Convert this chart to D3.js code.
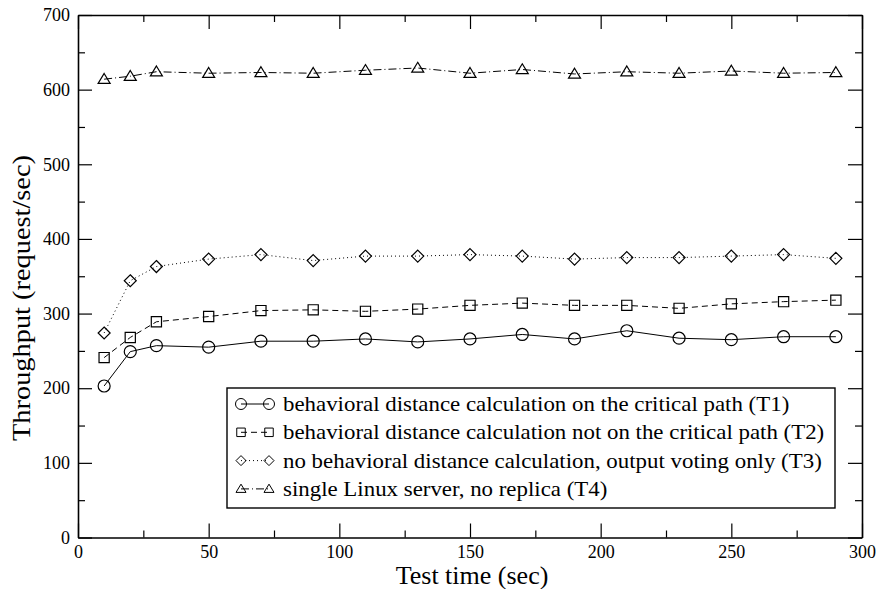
<!DOCTYPE html>
<html>
<head>
<meta charset="utf-8">
<script src="https://cdn.jsdelivr.net/npm/d3@7"></script>
<style>
  body { margin: 0; background: #fff; }
  svg { display: block; font-family: "Liberation Serif", "Times New Roman", serif; }
  .axis path, .axis line { stroke: #000; }
  .axis text { font-size: 18px; fill: #000; font-family: "Liberation Serif", "Times New Roman", serif; }
</style>
</head>
<body>
<svg id="chart" width="879" height="589"></svg>
<script>
// test time (sec)
var times = [10, 20, 30, 50, 70, 90, 110, 130, 150, 170, 190, 210, 230, 250, 270, 290];
// throughput (request/sec)
var t1 = [203, 249, 257, 255, 263, 263, 266, 262, 266, 272, 266, 277, 267, 265, 269, 269];
var t2 = [241, 268, 289, 296, 304, 305, 303, 306, 311, 314, 311, 311, 307, 313, 316, 318];
var t3 = [274, 344, 363, 373, 379, 371, 377, 377, 379, 377, 373, 375, 375, 377, 379, 374];
var t4 = [614, 618, 624, 622, 623, 622, 626, 629, 622, 627, 621, 624, 622, 625, 622, 623];
var seriesNames = [
    'behavioral distance calculation on the critical path (T1)',
    'behavioral distance calculation not on the critical path (T2)',
    'no behavioral distance calculation, output voting only (T3)',
    'single Linux server, no replica (T4)'
];
var xTicks = [0, 50, 100, 150, 200, 250, 300];
var yTicks = [0, 100, 200, 300, 400, 500, 600, 700];

var series = [
    { name: seriesNames[0], values: t1, marker: 'circle', dash: null },
    { name: seriesNames[1], values: t2, marker: 'square', dash: '6,4' },
    { name: seriesNames[2], values: t3, marker: 'diamond', dash: '1,3' },
    { name: seriesNames[3], values: t4, marker: 'triangle', dash: '8,3,1,3' }
];

var svg = d3.select('#chart');
// plot frame (window.top is reserved, so keep these in an object)
var frame = { left: 78, right: 862, top: 15, bottom: 537.5 };

var x = d3.scaleLinear().domain([0, 300]).range([frame.left, frame.right]);
var y = d3.scaleLinear().domain([0, 700]).range([frame.bottom, frame.top]);

// marker path centred on 0,0; size s is the half width
function markerPath(type, s) {
    if (type === 'circle') {
        return d3.arc()({ innerRadius: 0, outerRadius: s, startAngle: 0, endAngle: 2 * Math.PI });
    }
    if (type === 'square') {
        var h = s * 0.85;
        return 'M' + (-h) + ',' + (-h) + 'H' + h + 'V' + h + 'H' + (-h) + 'Z';
    }
    if (type === 'diamond') {
        return 'M0,' + (-s) + 'L' + s + ',0L0,' + s + 'L' + (-s) + ',0Z';
    }
    // triangle
    return 'M0,' + (-s * 0.95) + 'L' + s + ',' + (s * 0.7) + 'L' + (-s) + ',' + (s * 0.7) + 'Z';
}

// axes: major ticks inward, minor ticks inward, all four sides
function drawAxis(axisFn, scale, transform, majors, minors, major, minor, labels, pad) {
    var gMinor = svg.append('g').attr('class', 'axis').attr('transform', transform)
        .call(axisFn(scale).tickValues(minors).tickSize(-minor).tickSizeOuter(0).tickFormat(''));
    gMinor.select('.domain').remove();
    var g = svg.append('g').attr('class', 'axis').attr('transform', transform)
        .call(axisFn(scale).tickValues(majors).tickSize(-major).tickSizeOuter(0)
            .tickPadding(pad)
            .tickFormat(labels ? d3.format('d') : ''));
    g.select('.domain').attr('stroke-width', 1.6);
    g.selectAll('.tick line').attr('stroke-width', 1.2);
    gMinor.selectAll('.tick line').attr('stroke-width', 1.2);
    return g;
}

var xMinor = d3.range(25, 300, 50);
var yMinor = d3.range(50, 700, 100);

drawAxis(d3.axisBottom, x, 'translate(0,' + frame.bottom + ')', xTicks, xMinor, 14, 7, true, 8);
drawAxis(d3.axisTop, x, 'translate(0,' + frame.top + ')', xTicks, xMinor, 14, 7, false, 3);
drawAxis(d3.axisLeft, y, 'translate(' + frame.left + ',0)', yTicks, yMinor, 14, 7, true, 8);
drawAxis(d3.axisRight, y, 'translate(' + frame.right + ',0)', yTicks, yMinor, 14, 7, false, 3);

// axis titles
svg.append('text')
    .attr('x', 472).attr('y', 584)
    .attr('text-anchor', 'middle')
    .style('font-size', '26px')
    .text('Test time (sec)');

svg.append('text')
    .attr('transform', 'translate(30,298) rotate(-90)')
    .attr('text-anchor', 'middle')
    .attr('textLength', 286)
    .attr('lengthAdjust', 'spacingAndGlyphs')
    .style('font-size', '25px')
    .text('Throughput (request/sec)');

// lines and markers
var line = d3.line()
    .x(function (d) { return x(d.t); })
    .y(function (d) { return y(d.v); });

series.forEach(function (s) {
    var pts = times.map(function (t, i) { return { t: t, v: s.values[i] }; });
    svg.append('path')
        .datum(pts)
        .attr('d', line)
        .attr('fill', 'none')
        .attr('stroke', '#000')
        .attr('stroke-width', 1)
        .attr('stroke-dasharray', s.dash);
    svg.append('g').selectAll('path')
        .data(pts)
        .enter()
            .append('path')
            .attr('transform', function (d) { return 'translate(' + x(d.t) + ',' + y(d.v) + ')'; })
            .attr('d', markerPath(s.marker, 6))
            .attr('fill', 'none')
            .attr('stroke', '#000')
            .attr('stroke-width', 1.2);
});

// legend
var legend = svg.append('g');
legend.append('rect')
    .attr('x', 227).attr('y', 388)
    .attr('width', 608).attr('height', 120)
    .attr('fill', '#fff')
    .attr('stroke', '#000')
    .attr('stroke-width', 1.4);

series.forEach(function (s, i) {
    var ry = 404 + i * 28.3;
    legend.append('line')
        .attr('x1', 241).attr('x2', 269)
        .attr('y1', ry).attr('y2', ry)
        .attr('stroke', '#000')
        .attr('stroke-width', 1)
        .attr('stroke-dasharray', s.dash);
    [241, 269].forEach(function (mx) {
        legend.append('path')
            .attr('transform', 'translate(' + mx + ',' + ry + ')')
            .attr('d', markerPath(s.marker, s.marker === 'circle' ? 5.5 : 5))
            .attr('fill', 'none')
            .attr('stroke', '#000')
            .attr('stroke-width', 1);
    });
    // the reference text runs a bit wider than Liberation Serif, stretch it
    legend.append('text')
        .attr('transform', 'translate(283,' + (ry + 7) + ') scale(1.09,1)')
        .style('font-size', '21px')
        .text(s.name);
});
</script>
</body>
</html>
